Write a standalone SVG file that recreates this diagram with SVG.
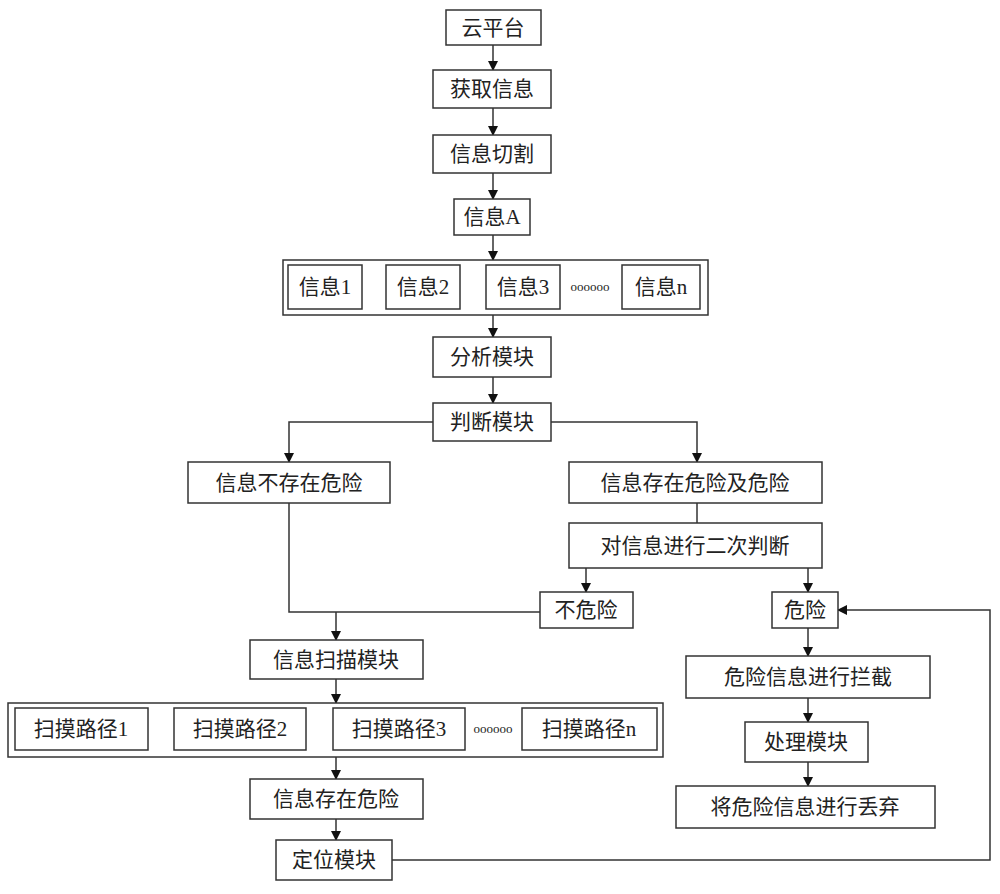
<svg xmlns="http://www.w3.org/2000/svg" width="1000" height="894" viewBox="0 0 1000 894">
<style>
rect{fill:#fff;stroke:#333;stroke-width:1.5}
text{font-family:"Liberation Serif","Noto Sans CJK SC",serif;font-size:21px;fill:#222;text-anchor:middle;dominant-baseline:central}
.c{fill:none;stroke:#333;stroke-width:1.5}
.a{marker-end:url(#ar)}
.d{font-size:13px}
</style>
<defs><marker id="ar" markerWidth="10" markerHeight="10" refX="9" refY="5" orient="auto" markerUnits="userSpaceOnUse"><path d="M0,0 L10,5 L0,10 Z" fill="#111"/></marker></defs>
<g id="connectors">
<path class="c a" d="M493,45 V70"/>
<path class="c a" d="M493,108 V135"/>
<path class="c a" d="M493,173 V199"/>
<path class="c a" d="M493,235 V260"/>
<path class="c a" d="M493,315 V337"/>
<path class="c a" d="M493,377 V403"/>
<path class="c a" d="M433,422 H289 V462"/>
<path class="c a" d="M551,422 H697 V462"/>
<path class="c" d="M697,503 V523"/>
<path class="c a" d="M586,568 V592"/>
<path class="c a" d="M808,568 V592"/>
<path class="c" d="M289,503 V612 H540"/>
<path class="c a" d="M336,612 V640"/>
<path class="c a" d="M336,679 V703"/>
<path class="c a" d="M336,757 V779"/>
<path class="c a" d="M336,819 V840"/>
<path class="c a" d="M808,628 V656"/>
<path class="c a" d="M808,698 V722"/>
<path class="c a" d="M808,762 V786"/>
<path class="c a" d="M392,860 H990 V610 H838"/>
<path class="c" d="M148,729 H174"/>
</g>
<g id="n1"><rect x="446" y="10" width="95" height="35"/><text x="493" y="28">云平台</text></g>
<g id="n2"><rect x="433" y="70" width="118" height="38"/><text x="492" y="89">获取信息</text></g>
<g id="n3"><rect x="433" y="135" width="118" height="38"/><text x="492" y="154">信息切割</text></g>
<g id="n4"><rect x="454" y="199" width="76" height="36"/><text x="492" y="217">信息A</text></g>
<g id="n5"><rect x="283" y="260" width="425" height="55"/>
<rect x="288" y="265" width="74" height="44"/><text x="325" y="287">信息1</text>
<rect x="386" y="265" width="74" height="44"/><text x="423" y="287">信息2</text>
<rect x="486" y="265" width="74" height="44"/><text x="523" y="287">信息3</text>
<text class="d" x="590" y="286">oooooo</text>
<rect x="622" y="265" width="78" height="44"/><text x="661" y="287">信息n</text></g>
<g id="n6"><rect x="433" y="337" width="118" height="40"/><text x="492" y="357">分析模块</text></g>
<g id="n7"><rect x="433" y="403" width="118" height="38"/><text x="492" y="422">判断模块</text></g>
<g id="n8"><rect x="188" y="462" width="202" height="41"/><text x="289" y="483">信息不存在危险</text></g>
<g id="n9"><rect x="569" y="462" width="253" height="41"/><text x="695" y="483">信息存在危险及危险</text></g>
<g id="n10"><rect x="569" y="523" width="253" height="45"/><text x="695" y="546">对信息进行二次判断</text></g>
<g id="n11"><rect x="540" y="592" width="93" height="36"/><text x="586" y="610">不危险</text></g>
<g id="n12"><rect x="772" y="592" width="66" height="36"/><text x="805" y="610">危险</text></g>
<g id="n13"><rect x="250" y="640" width="173" height="39"/><text x="336" y="660">信息扫描模块</text></g>
<g id="n14"><rect x="8" y="703" width="655" height="54"/>
<rect x="15" y="708" width="133" height="42"/><text x="81" y="729">扫摸路径1</text>
<rect x="174" y="708" width="132" height="42"/><text x="240" y="729">扫摸路径2</text>
<rect x="333" y="708" width="132" height="42"/><text x="399" y="729">扫摸路径3</text>
<text class="d" x="493" y="728">oooooo</text>
<rect x="522" y="708" width="135" height="42"/><text x="589" y="729">扫摸路径n</text></g>
<g id="n15"><rect x="250" y="779" width="173" height="40"/><text x="336" y="799">信息存在危险</text></g>
<g id="n16"><rect x="276" y="840" width="116" height="40"/><text x="334" y="860">定位模块</text></g>
<g id="n17"><rect x="686" y="656" width="244" height="42"/><text x="808" y="677">危险信息进行拦截</text></g>
<g id="n18"><rect x="745" y="722" width="123" height="40"/><text x="806" y="742">处理模块</text></g>
<g id="n19"><rect x="676" y="786" width="259" height="42"/><text x="805" y="807">将危险信息进行丢弃</text></g>
</svg>
